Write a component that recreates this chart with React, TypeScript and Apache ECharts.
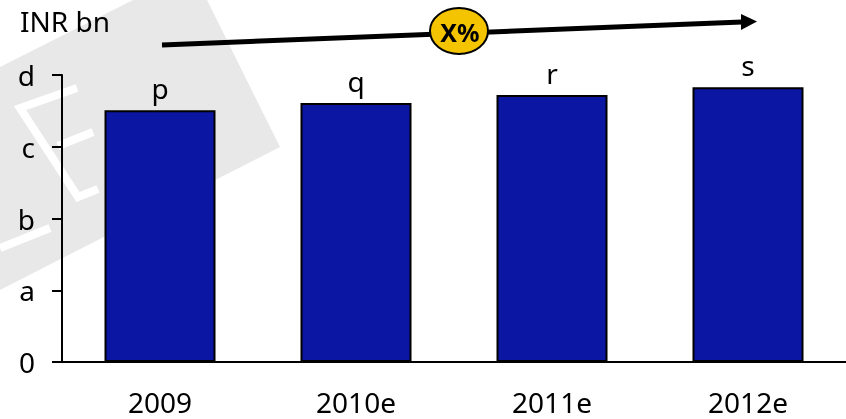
import { useEffect, useRef } from 'react';
import * as echarts from 'echarts';

const categories = ['2009', '2010e', '2011e', '2012e'];
const values = [3.51, 3.61, 3.72, 3.83];
const barLabels = ['p', 'q', 'r', 's'];
const yTickLabels = ['0', 'a', 'b', 'c', 'd'];
const unitLabel = 'INR bn';
const growthLabel = 'X%';

export default function App() {
  const ref = useRef<HTMLDivElement>(null);
  useEffect(() => {
    const chart = echarts.init(ref.current!, null, { renderer: 'svg' });
    const font = "'Noto Sans', sans-serif";
    chart.setOption({
      animation: false,
      grid: { left: 62, right: -10, top: 75, bottom: 57, containLabel: false },
      xAxis: {
        type: 'category',
        data: categories,
        axisLine: { lineStyle: { color: '#000', width: 2 } },
        axisTick: { show: false },
        axisLabel: { color: '#000', fontFamily: font, fontSize: 28, lineHeight: 28, margin: 26 },
      },
      yAxis: {
        type: 'value',
        min: 0,
        max: 4,
        interval: 1,
        splitLine: { show: false },
        axisLine: { show: true, lineStyle: { color: '#000', width: 2 } },
        axisTick: { show: true, length: 10, lineStyle: { color: '#000', width: 2 } },
        axisLabel: {
          formatter: (v: number) => yTickLabels[Math.round(v)],
          color: '#000',
          fontSize: 28,
          fontFamily: font,
          margin: 27,
        },
      },
      series: [
        {
          type: 'bar',
          data: values,
          barWidth: 111,
          itemStyle: { color: '#0B16A3', borderColor: '#000', borderWidth: 2 },
          label: {
            show: true,
            position: 'top',
            distance: 8,
            formatter: (p: any) => barLabels[p.dataIndex],
            color: '#000',
            fontSize: 28,
            fontFamily: font,
          },
        },
      ],
      graphic: [
        {
          type: 'polygon',
          z: -10,
          silent: true,
          shape: { points: [[133, 0], [207, 0], [280, 147], [0, 290], [0, 67]] },
          style: { fill: '#e8e8e8' },
        },
        {
          type: 'polyline',
          z: -9,
          silent: true,
          shape: { points: [[77, 88], [20, 108], [78, 197], [98, 189]] },
          style: { stroke: '#fff', lineWidth: 8, fill: 'none' },
        },
        {
          type: 'polyline',
          z: -9,
          silent: true,
          shape: { points: [[93, 132], [58, 146]] },
          style: { stroke: '#fff', lineWidth: 8, fill: 'none' },
        },
        {
          type: 'polyline',
          z: -9,
          silent: true,
          shape: { points: [[0, 248], [50, 228]] },
          style: { stroke: '#fff', lineWidth: 8, fill: 'none' },
        },
        {
          type: 'text',
          z: 50,
          x: 20,
          y: 21,
          style: { text: unitLabel, fill: '#000', font: `28px ${font}`, textVerticalAlign: 'middle', textAlign: 'left' },
        },
        {
          type: 'line',
          z: 50,
          shape: { x1: 162, y1: 45, x2: 742, y2: 22 },
          style: { stroke: '#000', lineWidth: 5 },
        },
        {
          type: 'polygon',
          z: 50,
          shape: { points: [[757, 21.5], [741, 14], [741, 30]] },
          style: { fill: '#000' },
        },
        {
          type: 'ellipse',
          z: 60,
          shape: { cx: 459, cy: 31, rx: 29, ry: 23 },
          style: { fill: '#F5C400', stroke: '#000', lineWidth: 2 },
        },
        {
          type: 'text',
          z: 61,
          x: 460,
          y: 32,
          style: { text: growthLabel, fill: '#000', font: `bold 25px ${font}`, textAlign: 'center', textVerticalAlign: 'middle' },
        },
      ],
    });
    return () => chart.dispose();
  }, []);
  return <div ref={ref} style={{ position: 'fixed', left: 0, top: 0, width: 846, height: 419 }} />;
}
